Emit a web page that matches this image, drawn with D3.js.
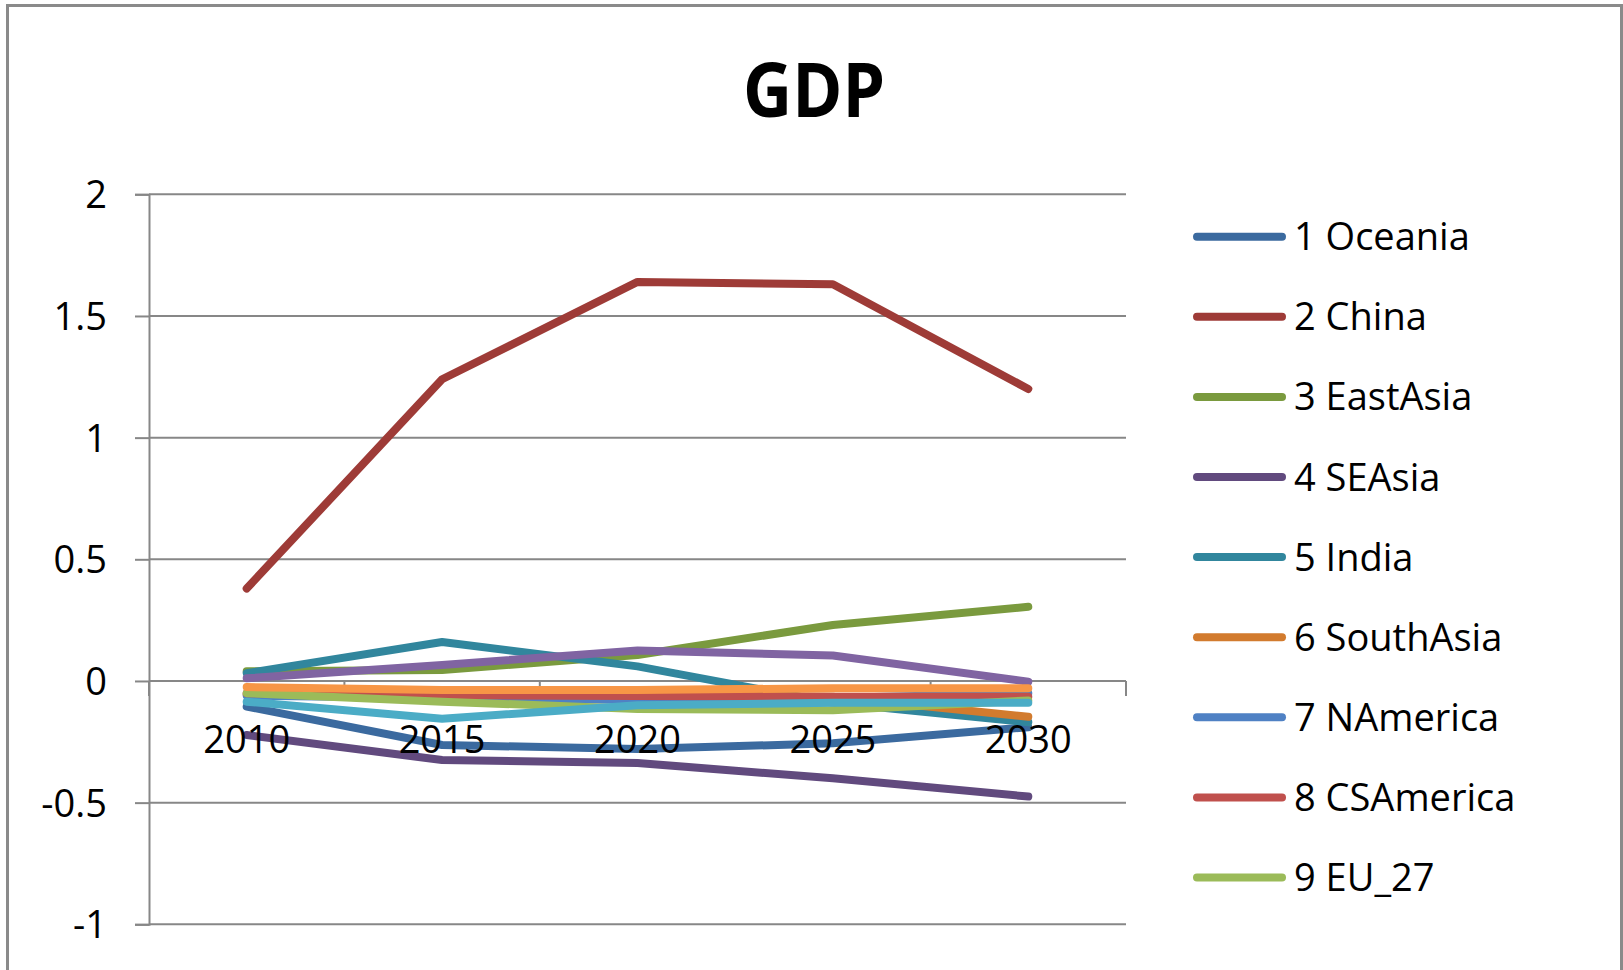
<!DOCTYPE html>
<html>
<head>
<meta charset="utf-8">
<script src="https://cdn.jsdelivr.net/npm/d3@7"></script>
<style>
  html, body { margin: 0; padding: 0; background: #ffffff; }
  svg { display: block; }
  text { font-family: "Open Sans", "Noto Sans", sans-serif; fill: #000; }
</style>
</head>
<body>
<svg id="chart" width="1623" height="970"></svg>
<script>
// ---------- data ----------
const title = "GDP";
const years = ["2010", "2015", "2020", "2025", "2030"];
const yTicks = [2, 1.5, 1, 0.5, 0, -0.5, -1];
const yTickLabels = ["2", "1.5", "1", "0.5", "0", "-0.5", "-1"];

const seriesNames = [
  "1 Oceania", "2 China", "3 EastAsia", "4 SEAsia", "5 India", "6 SouthAsia",
  "7 NAmerica", "8 CSAmerica", "9 EU_27", "10", "11", "12"
];
const oceania   = [-0.105, -0.263, -0.28, -0.256, -0.19];
const china     = [0.38, 1.24, 1.64, 1.63, 1.2];
const eastAsia  = [0.04, 0.045, 0.107, 0.23, 0.305];
const seAsia    = [-0.222, -0.325, -0.337, -0.40, -0.475];
const india     = [0.032, 0.16, 0.06, -0.09, -0.17];
const southAsia = [-0.055, -0.06, -0.06, -0.065, -0.147];
const nAmerica  = [-0.06, -0.07, -0.078, -0.07, -0.05];
const csAmerica = [-0.05, -0.058, -0.062, -0.065, -0.065];
const eu27      = [-0.05, -0.085, -0.115, -0.12, -0.08];
const series10  = [0.011, 0.066, 0.125, 0.105, -0.003];
const series11  = [-0.085, -0.155, -0.1, -0.09, -0.09];
const series12  = [-0.025, -0.037, -0.037, -0.03, -0.03];
const seriesValues = [oceania, china, eastAsia, seAsia, india, southAsia,
                      nAmerica, csAmerica, eu27, series10, series11, series12];
const seriesColors = ["#3B6A9F", "#9E3B37", "#7A9A3E", "#614A7E", "#31869D", "#D27B2E",
                      "#4F81C4", "#C0504D", "#9BBB59", "#8064A2", "#4BACC6", "#F79646"];
const legendCount = 9;

// ---------- layout ----------
const svg = d3.select("#chart");
const plot = { left: 149, right: 1126, top: 194.3, bottom: 924.3 };

const x = d3.scaleBand().domain(years).range([plot.left, plot.right]).paddingInner(0).paddingOuter(0);
const xc = d => x(d) + x.bandwidth() / 2;
const y = d3.scaleLinear().domain([-1, 2]).range([plot.bottom, plot.top]);

const gridColor = "#878787";

// outer border
svg.append("rect")
  .attr("x", 7.5).attr("y", 5.5)
  .attr("width", 1614).attr("height", 1010)
  .attr("fill", "none").attr("stroke", "#8a8a8a").attr("stroke-width", 3);

// title
svg.append("text")
  .attr("x", 814).attr("y", 117)
  .attr("text-anchor", "middle")
  .attr("font-size", 76).attr("font-weight", "bold")
  .attr("textLength", 142).attr("lengthAdjust", "spacingAndGlyphs")
  .text(title);

// gridlines
svg.append("g").selectAll("line").data(yTicks.filter(d => d !== 0)).join("line")
  .attr("x1", plot.left).attr("x2", plot.right)
  .attr("y1", d => y(d)).attr("y2", d => y(d))
  .attr("stroke", gridColor).attr("stroke-width", 2);

// y axis
const yAxis = d3.axisLeft(y).tickValues(yTicks).tickSize(14).tickPadding(28)
  .tickFormat((d, i) => yTickLabels[i]);
const gy = svg.append("g").attr("transform", `translate(${plot.left},0)`).call(yAxis);
gy.select(".domain").attr("stroke", gridColor).attr("stroke-width", 2);
gy.selectAll(".tick line").attr("stroke", gridColor).attr("stroke-width", 2);
gy.selectAll(".tick text")
  .attr("font-size", 38).attr("font-family", "'Open Sans', sans-serif")
  .attr("fill", "#000").attr("dy", "0.36em");

// x axis line at 0 with ticks at category boundaries
const gx = svg.append("g");
gx.append("line")
  .attr("x1", plot.left).attr("x2", plot.right)
  .attr("y1", y(0)).attr("y2", y(0))
  .attr("stroke", gridColor).attr("stroke-width", 2);
const bounds = years.map(d => x(d)).concat([x(years[years.length - 1]) + x.bandwidth()]);
gx.selectAll("line.tk").data(bounds).join("line").attr("class", "tk")
  .attr("x1", d => d).attr("x2", d => d)
  .attr("y1", y(0)).attr("y2", y(0) + 15)
  .attr("stroke", gridColor).attr("stroke-width", 2);

// series lines
const line = d3.line().x((v, i) => xc(years[i])).y(v => y(v));
svg.append("g").selectAll("path").data(seriesValues).join("path")
  .attr("d", d => line(d))
  .attr("fill", "none")
  .attr("stroke", (d, i) => seriesColors[i])
  .attr("stroke-width", 8)
  .attr("stroke-linecap", "round")
  .attr("stroke-linejoin", "round");

// x labels (on top)
svg.append("g").selectAll("text").data(years).join("text")
  .attr("x", d => xc(d)).attr("y", 753)
  .attr("text-anchor", "middle").attr("font-size", 38)
  .text(d => d);

// legend
const legendY0 = 236.7, legendStep = 80.1;
const lg = svg.append("g").selectAll("g").data(d3.range(legendCount)).join("g")
  .attr("transform", i => `translate(0,${legendY0 + i * legendStep})`);
lg.append("line")
  .attr("x1", 1197).attr("x2", 1282).attr("y1", 0).attr("y2", 0)
  .attr("stroke", i => seriesColors[i]).attr("stroke-width", 8)
  .attr("stroke-linecap", "round");
lg.append("text")
  .attr("x", 1294).attr("y", 13.5)
  .attr("font-size", 38)
  .text(i => seriesNames[i]);
</script>
</body>
</html>
